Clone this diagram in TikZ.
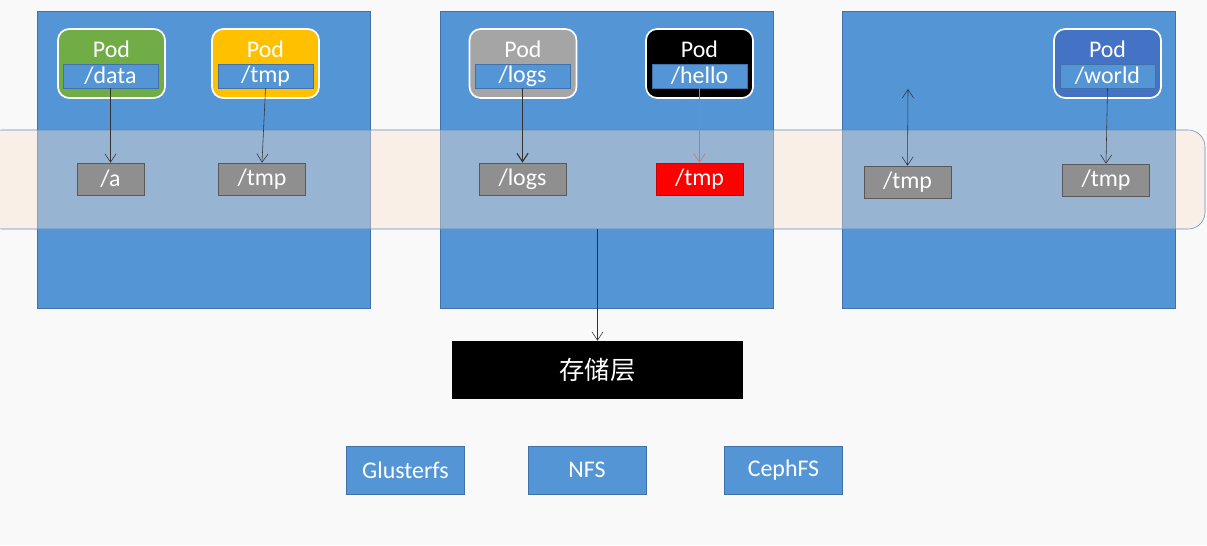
\documentclass[tikz,border=0pt]{standalone}
\usepackage{fontspec}
\setmainfont{Carlito}
\newfontfamily\cjk{Noto Sans CJK SC}
\usetikzlibrary{arrows.meta}

\definecolor{hostblue}{RGB}{84,150,213}
\definecolor{hostedge}{RGB}{65,113,170}
\definecolor{bandfill}{RGB}{253,226,206}
\definecolor{bandedge}{RGB}{91,141,200}
\definecolor{podgreen}{RGB}{112,173,71}
\definecolor{podyellow}{RGB}{255,192,0}
\definecolor{podgray}{RGB}{165,165,165}
\definecolor{poddark}{RGB}{68,114,196}
\definecolor{mountgray}{RGB}{143,143,143}
\definecolor{pinkline}{RGB}{226,104,104}

\begin{document}
\begin{tikzpicture}[x=0.025cm,y=-0.025cm,>={Straight Barb[length=6pt,width=8pt]},
  font=\fontsize{17}{20}\selectfont,
  host/.style={draw=hostedge,fill=hostblue,minimum width=8.325cm,minimum height=7.425cm,inner sep=0},
  pod/.style={draw=white,line width=1.2pt,rounded corners=8pt,minimum width=2.675cm,minimum height=1.725cm,inner sep=0},
  podtext/.style={text=white,inner sep=0},
  vpath/.style={draw=hostedge,fill=hostblue,text=white,minimum width=2.375cm,minimum height=0.6cm,inner sep=0},
  mount/.style={draw=gray!70!black,fill=mountgray,text=white,minimum width=2.175cm,minimum height=0.8cm,inner sep=0},
  backend/.style={draw=hostedge,fill=hostblue,text=white,minimum width=2.95cm,minimum height=1.2cm,inner sep=0},
  link/.style={->,draw=black!80,thin}]
  % Page and background.
  \useasboundingbox (0,0) rectangle (1207,545);
  \clip (0,0) rectangle (1207,545);
  \fill[gray!5] (0,0) rectangle (1207,545);
  % Three hosts.
  \node[host] (h1) at (203.5,159.5) {};
  \node[host] (h2) at (606.5,159.5) {};
  \node[host] (h3) at (1009,159.5) {};
  % Pods with their volume paths.
  \node[pod,fill=podgreen] (p1) at (111.5,63.5) {};
  \node[podtext] (p1t) at (111.5,49) {Pod};
  \node[vpath] (v1) at (110.5,76) {/data};
  \node[pod,fill=podyellow] (p2) at (265.5,63.5) {};
  \node[podtext] (p2t) at (265.5,49) {Pod};
  \node[vpath] (v2) at (265.5,76) {/tmp};
  \node[pod,fill=podgray] (p3) at (523,63.5) {};
  \node[podtext] (p3t) at (523,49) {Pod};
  \node[vpath] (v3) at (522.5,76) {/logs};
  \node[pod,fill=black] (p4) at (699.5,63.5) {};
  \node[podtext] (p4t) at (699.5,49) {Pod};
  \node[vpath] (v4) at (699.5,76) {/hello};
  \node[pod,fill=poddark] (p5) at (1107.5,63.5) {};
  \node[podtext] (p5t) at (1107.5,49) {Pod};
  \node[vpath] (v5) at (1107.5,76) {/world};
  % Shared band across the hosts.
  \draw[draw=bandedge,fill=bandfill,fill opacity=0.4,rounded corners=12pt]
    (-15,130) rectangle (1205,229);
  % Mount points on the hosts.
  \node[mount,minimum width=1.675cm] (m1) at (110.5,179) {/a};
  \node[mount] (m2) at (262,179) {/tmp};
  \node[mount] (m3) at (522.5,179) {/logs};
  \node[mount,fill=red,draw=red!80!black] (m4) at (699.5,179) {/tmp};
  \node[mount] (m5) at (907.5,182) {/tmp};
  \node[mount] (m6) at (1106,180) {/tmp};
  % Storage layer and backends.
  \node[fill=black,text=white,minimum width=7.275cm,minimum height=1.45cm,inner sep=0,
    font=\cjk\fontsize{18}{21}\selectfont] (store) at (597.5,370) {存储层};
  \node[backend] (gfs) at (405.5,470) {Glusterfs};
  \node[backend] (nfs) at (587,470) {NFS};
  \node[backend] (ceph) at (783.5,470) {CephFS};
  % Connectors.
  \coordinate (up) at (908,89);
  \coordinate (bandout) at (597.5,229);
  \draw[link] (v1.south) -- (m1.north);
  \draw[link] (v2.south) -- (m2.north);
  \draw[link,thick] (v3.south) -- (m3.north);
  \draw[link,draw=pinkline] (v4.south) -- (m4.north);
  \draw[link,<->] (up) -- (m5.north);
  \draw[link] (v5.south) -- (m6.north);
  \draw[link] (bandout) -- (store.north);
\end{tikzpicture}
\end{document}
